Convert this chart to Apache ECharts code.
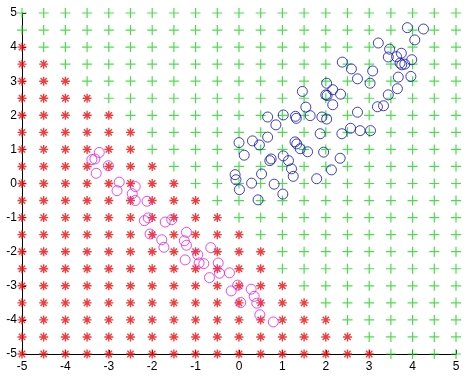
<!DOCTYPE html>
<html><head><meta charset="utf-8">
<script src="https://cdn.jsdelivr.net/npm/echarts@6/dist/echarts.min.js"></script>
<style>html,body{margin:0;padding:0;background:#fff}#c{width:476px;height:384px}</style>
</head><body><div id="c"></div>
<script>
// grid of classified test points
var gridX = [-5,-4.5,-4,-3.5,-3,-2.5,-2,-1.5,-1,-0.5,0,0.5,1,1.5,2,2.5,3,3.5,4,4.5,5];
var gridY = [5,4.5,4,3.5,3,2.5,2,1.5,1,0.5,0,-0.5,-1,-1.5,-2,-2.5,-3,-3.5,-4,-4.5,-5];
// number of red (class A) cells from the left in each row of gridY
var redCount = [0,0,1,2,3,4,5,6,6,7,8,9,10,11,12,12,13,14,15,16,17];
// training samples
var magentaPts = [[-3.22,0.91],[-3.39,0.70],[-3.32,0.72],[-3.01,0.52],[-3.29,0.30],[-2.76,0.04],[-2.81,-0.21],[-2.39,-0.09],[-2.46,-0.30],[-2.39,-0.50],[-2.12,-0.52],[-2.09,-1.01],[-2.18,-1.09],[-1.70,-1.13],[-1.55,-1.06],[-2.05,-1.48],[-1.78,-1.65],[-1.73,-1.87],[-1.21,-1.43],[-1.26,-1.68],[-1.21,-1.81],[-0.95,-2.09],[-1.24,-2.24],[-0.65,-1.88],[-0.92,-2.33],[-0.81,-2.35],[-0.48,-2.33],[-0.45,-2.63],[-0.22,-2.62],[-0.68,-2.76],[-0.03,-2.98],[-0.18,-3.15],[0.04,-3.49],[0.28,-3.10],[0.35,-3.31],[0.41,-3.51],[0.48,-3.85],[0.79,-4.06]];
var bluePts = [[2.02,2.94],[2.16,2.75],[2.00,2.60],[2.03,2.58],[2.34,2.62],[2.16,2.31],[1.46,2.70],[1.54,2.24],[0.66,1.95],[1.02,2.01],[1.30,1.97],[1.32,1.91],[1.64,1.99],[1.91,1.95],[2.02,1.89],[0.85,1.72],[0.66,1.36],[0.31,1.25],[0.00,1.20],[0.47,1.13],[0.12,0.83],[1.29,1.22],[1.33,1.16],[1.41,1.02],[1.58,0.93],[1.87,1.46],[2.37,1.46],[1.95,0.92],[2.33,0.74],[2.13,0.40],[0.74,0.72],[0.71,0.67],[1.02,0.81],[1.14,0.67],[1.21,0.43],[1.25,0.21],[1.79,0.14],[0.52,0.28],[-0.09,0.26],[-0.07,0.11],[0.29,0.01],[0.81,-0.02],[0.01,-0.18],[1.01,-0.31],[0.44,-0.48],[3.88,4.57],[4.25,4.53],[4.05,4.21],[3.21,4.12],[3.47,3.94],[3.74,3.82],[3.44,3.71],[3.63,3.72],[3.71,3.53],[3.75,3.48],[3.82,3.50],[3.98,3.63],[2.38,3.56],[2.59,3.36],[3.08,3.30],[2.73,3.07],[3.02,2.94],[3.67,3.12],[3.96,3.14],[3.65,2.78],[3.44,2.60],[3.19,2.25],[3.33,2.28],[2.73,2.09],[2.57,1.62],[2.79,1.55],[3.03,1.55]];
var axisTicks = [-5,-4,-3,-2,-1,0,1,2,3,4,5];

var redPts = [], greenPts = [];
gridY.forEach(function(y, r){
  gridX.forEach(function(x, c){
    if (c < redCount[r]) redPts.push([x,y]); else greenPts.push([x,y]);
  });
});

var plusPath = 'path://M0,5L10,5M5,0L5,10';
var starPath = 'path://M0,5L10,5M5,0L5,10M1.5,1.5L8.5,8.5M8.5,1.5L1.5,8.5';
var axisCommon = {
  type:'value', min:-5, max:5, interval:1,
  axisLine:{show:true, onZero:false, lineStyle:{color:'#000', width:1}},
  axisTick:{show:true, inside:true, length:4, lineStyle:{color:'#000'}},
  splitLine:{show:false},
  axisLabel:{color:'#000', fontFamily:'Liberation Sans, Arial, sans-serif', fontSize:12}
};
var chart = echarts.init(document.getElementById('c'), null, {renderer:'canvas'});
chart.setOption({
  animation:false,
  backgroundColor:'#fff',
  grid:{left:22, right:20, top:13, bottom:30, containLabel:false},
  xAxis: Object.assign({}, axisCommon, {axisLabel:Object.assign({}, axisCommon.axisLabel, {margin:7})}),
  yAxis: Object.assign({}, axisCommon, {axisLabel:Object.assign({}, axisCommon.axisLabel, {margin:5})}),
  series:[
    {type:'scatter', data:greenPts, symbol:plusPath, symbolSize:10, clip:false, silent:true,
     itemStyle:{color:'none', borderColor:'#1ed61e', borderWidth:1.2}},
    {type:'scatter', data:redPts, symbol:starPath, symbolSize:9, clip:false, silent:true,
     itemStyle:{color:'none', borderColor:'#ec0c0c', borderWidth:1.4}},
    {type:'scatter', data:magentaPts, symbol:'circle', symbolSize:10, clip:false, silent:true,
     itemStyle:{color:'none', borderColor:'#e020e0', borderWidth:1}},
    {type:'scatter', data:bluePts, symbol:'circle', symbolSize:10, clip:false, silent:true,
     itemStyle:{color:'none', borderColor:'#1010b8', borderWidth:1}}
  ]
});
</script></body></html>
